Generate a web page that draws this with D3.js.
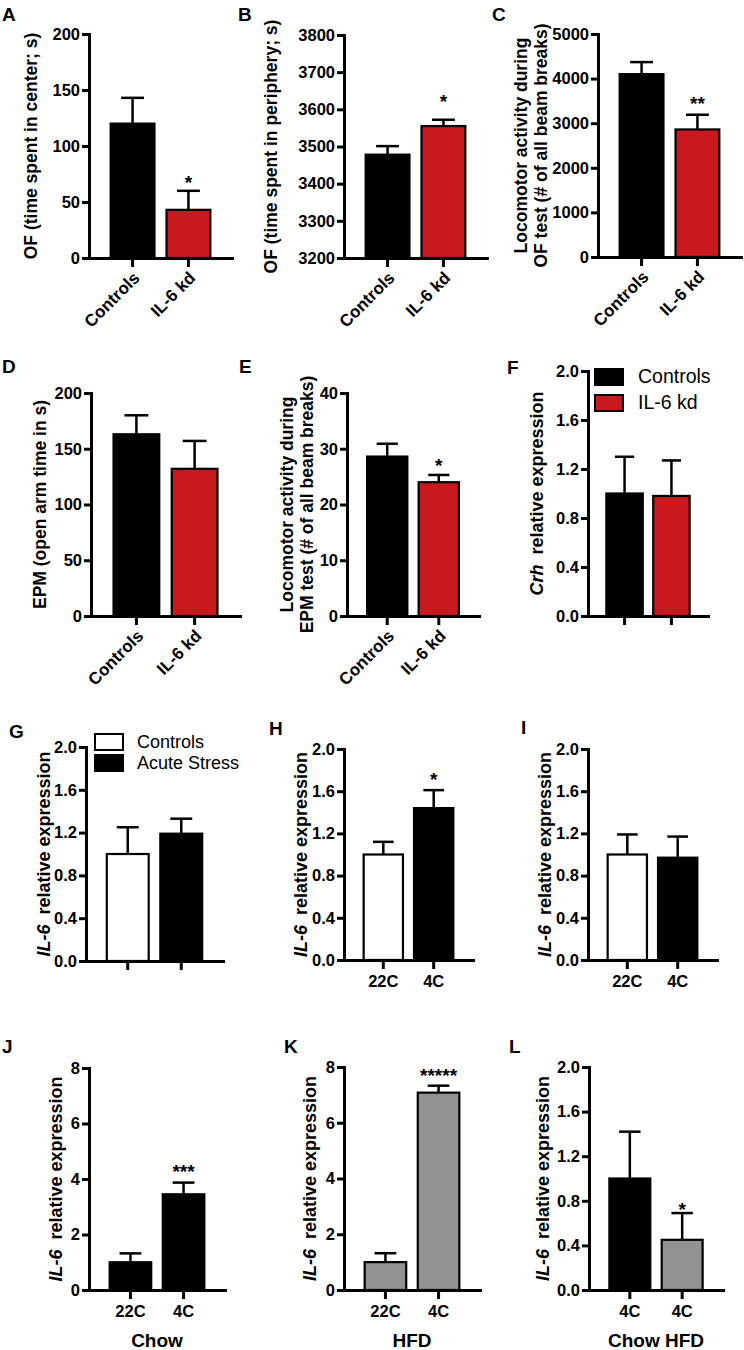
<!DOCTYPE html>
<html><head><meta charset="utf-8">
<script src="https://cdn.jsdelivr.net/npm/d3@7"></script>
<style>
body{margin:0;background:#fff;}
svg{display:block;font-family:"Liberation Sans",Arial,Helvetica,sans-serif;}
</style></head><body>
<svg id="chart" width="744" height="1350"></svg>
<script>
// ---------------- DATA ----------------
const kdGroups = ["Controls", "IL-6 kd"];
const stressGroups = ["Controls", "Acute Stress"];
const tempGroups = ["22C", "4C"];
const dietGroups = ["4C", "4C"];

const ofCenterMean = [120, 43],     ofCenterSem = [23, 17];
const ofPeriphMean = [3478, 3555],  ofPeriphSem = [23, 17];
const ofLocoMean = [4100, 2860],    ofLocoSem = [270, 330];
const epmOpenMean = [163, 132],     epmOpenSem = [17, 25];
const epmLocoMean = [28.6, 24.0],   epmLocoSem = [2.3, 1.3];
const crhMean = [1.0, 0.98],        crhSem = [0.30, 0.29];
const stressIl6Mean = [1.0, 1.19],  stressIl6Sem = [0.25, 0.14];
const coldHIl6Mean = [1.0, 1.44],   coldHIl6Sem = [0.12, 0.17];
const coldIIl6Mean = [1.0, 0.97],   coldIIl6Sem = [0.19, 0.20];
const chowIl6Mean = [1.0, 3.45],    chowIl6Sem = [0.32, 0.42];
const hfdIl6Mean = [1.0, 7.08],     hfdIl6Sem = [0.32, 0.25];
const dietIl6Mean = [1.0, 0.45],    dietIl6Sem = [0.42, 0.24];

const sigA = ["", "*"], sigB = ["", "*"], sigC = ["", "**"], sigD = ["", ""],
      sigE = ["", "*"], sigF = ["", ""], sigG = ["", ""], sigH = ["", "*"],
      sigI = ["", ""], sigJ = ["", "***"], sigK = ["", "*****"], sigL = ["", "*"];

const ticksA = [0, 50, 100, 150, 200];
const ticksB = [3200, 3300, 3400, 3500, 3600, 3700, 3800];
const ticksC = [0, 1000, 2000, 3000, 4000, 5000];
const ticksD = [0, 50, 100, 150, 200];
const ticksE = [0, 10, 20, 30, 40];
const ticksRel2 = [0, 0.4, 0.8, 1.2, 1.6, 2.0];
const ticksRel8 = [0, 2, 4, 6, 8];

// ---------------- STYLE ----------------
const RED = "#c8191e", BLACK = "#000", WHITE = "#fff", GRAY = "#929295";

const panels = [
  {letter:"A", lp:[2,21], mean:ofCenterMean, sem:ofCenterSem, sig:sigA, dom:[0,200], ticks:ticksA, fmt:d3.format("d"),
   x0:89, x1:232, yTop:34, yBot:258, fills:[BLACK,RED], labels:kdGroups, rot:true,
   ylab:[["OF (time spent in center; s)"]], lx:[37], sg:10},
  {letter:"B", lp:[238,21], mean:ofPeriphMean, sem:ofPeriphSem, sig:sigB, dom:[3200,3800], ticks:ticksB, fmt:d3.format("d"),
   x0:344, x1:487, yTop:35, yBot:258, fills:[BLACK,RED], labels:kdGroups, rot:true,
   ylab:[["OF (time spent in periphery; s)"]], lx:[277], sg:20},
  {letter:"C", lp:[492,21], mean:ofLocoMean, sem:ofLocoSem, sig:sigC, dom:[0,5000], ticks:ticksC, fmt:d3.format("d"),
   x0:598, x1:741, yTop:34, yBot:257, fills:[BLACK,RED], labels:kdGroups, rot:true,
   ylab:[["Locomotor activity during"],["OF test (# of all beam breaks)"]], lx:[527,547], sg:13},
  {letter:"D", lp:[2,373], mean:epmOpenMean, sem:epmOpenSem, sig:sigD, dom:[0,200], ticks:ticksD, fmt:d3.format("d"),
   x0:91, x1:240, yTop:393, yBot:616, fills:[BLACK,RED], labels:kdGroups, rot:true,
   ylab:[["EPM (open arm time in s)"]], lx:[46], sg:10},
  {letter:"E", lp:[239,373], mean:epmLocoMean, sem:epmLocoSem, sig:sigE, dom:[0,40], ticks:ticksE, fmt:d3.format("d"),
   x0:347, x1:479, yTop:393, yBot:616, fills:[BLACK,RED], labels:kdGroups, rot:true,
   ylab:[["Locomotor activity during"],["EPM test (# of all beam breaks)"]], lx:[293,313], sg:11},
  {letter:"F", lp:[507,374], mean:crhMean, sem:crhSem, sig:sigF, dom:[0,2], ticks:ticksRel2, fmt:d3.format(".1f"),
   x0:588, x1:708, yTop:371, yBot:616, fills:[BLACK,RED], labels:null, rot:false,
   ylab:[["Crh",true],["  relative expression"]], lx:[543], sg:10,
   legend:{x:595, y:[369,395], tx:638, fs:19.5, names:kdGroups, fills:[BLACK,RED]}},
  {letter:"G", lp:[9,738], mean:stressIl6Mean, sem:stressIl6Sem, sig:sigG, dom:[0,2], ticks:ticksRel2, fmt:d3.format(".1f"),
   x0:86, x1:223, yTop:747, yBot:961, fills:[WHITE,BLACK], labels:null, rot:false,
   ylab:[["IL-6",true],["  relative expression"]], lx:[50], sg:10,
   legend:{x:95, y:[734,755], tx:137, fs:18, names:stressGroups, fills:[WHITE,BLACK]}},
  {letter:"H", lp:[269,735], mean:coldHIl6Mean, sem:coldHIl6Sem, sig:sigH, dom:[0,2], ticks:ticksRel2, fmt:d3.format(".1f"),
   x0:344, x1:473, yTop:749, yBot:960, fills:[WHITE,BLACK], labels:tempGroups, rot:false,
   ylab:[["IL-6",true],["  relative expression"]], lx:[307], sg:12},
  {letter:"I", lp:[521,734], mean:coldIIl6Mean, sem:coldIIl6Sem, sig:sigI, dom:[0,2], ticks:ticksRel2, fmt:d3.format(".1f"),
   x0:588, x1:717, yTop:749, yBot:960, fills:[WHITE,BLACK], labels:tempGroups, rot:false,
   ylab:[["IL-6",true],["  relative expression"]], lx:[551], sg:10},
  {letter:"J", lp:[2,1053], mean:chowIl6Mean, sem:chowIl6Sem, sig:sigJ, dom:[0,8], ticks:ticksRel8, fmt:d3.format("d"),
   x0:89, x1:225, yTop:1068, yBot:1290, fills:[BLACK,BLACK], labels:tempGroups, rot:false,
   ylab:[["IL-6",true],["  relative expression"]], lx:[62], sg:13, group:"Chow"},
  {letter:"K", lp:[284,1053], mean:hfdIl6Mean, sem:hfdIl6Sem, sig:sigK, dom:[0,8], ticks:ticksRel8, fmt:d3.format("d"),
   x0:344, x1:480, yTop:1067, yBot:1290, fills:[GRAY,GRAY], labels:tempGroups, rot:false,
   ylab:[["IL-6",true],["  relative expression"]], lx:[316], sg:12, group:"HFD"},
  {letter:"L", lp:[509,1053], mean:dietIl6Mean, sem:dietIl6Sem, sig:sigL, dom:[0,2], ticks:ticksRel2, fmt:d3.format(".1f"),
   x0:589, x1:723, yTop:1067, yBot:1290, fills:[BLACK,GRAY], labels:dietGroups, rot:false,
   ylab:[["IL-6",true],["  relative expression"]], lx:[549], sg:5, group:"Chow HFD"}
];

const svg = d3.select("#chart");

function drawPanel(p) {
  const g = svg.append("g");
  const idx = d3.range(p.mean.length);
  const x = d3.scaleBand().domain(idx).range([p.x0, p.x1]).paddingInner(0.18).paddingOuter(0.37);
  const y = d3.scaleLinear().domain(p.dom).range([p.yBot, p.yTop]);
  const bw = x.bandwidth();

  // panel letter
  g.append("text").attr("x", p.lp[0]).attr("y", p.lp[1]).attr("font-size", 19).attr("font-weight", "bold").text(p.letter);

  // bars
  g.selectAll("rect.bar").data(p.mean).join("rect").attr("class","bar")
    .attr("x", (d,i) => x(i) + 1).attr("width", bw - 2)
    .attr("y", d => y(d)).attr("height", d => p.yBot - y(d))
    .attr("fill", (d,i) => p.fills[i]).attr("stroke", "#000").attr("stroke-width", 2.2);

  // error bars (upper only)
  const eb = g.selectAll("g.eb").data(p.mean).join("g").attr("class","eb");
  eb.append("line")
    .attr("x1", (d,i) => x(i) + bw/2).attr("x2", (d,i) => x(i) + bw/2)
    .attr("y1", d => y(d)).attr("y2", (d,i) => y(d + p.sem[i]))
    .attr("stroke", "#000").attr("stroke-width", 2.5);
  eb.append("line")
    .attr("x1", (d,i) => x(i) + bw*0.25).attr("x2", (d,i) => x(i) + bw*0.75)
    .attr("y1", (d,i) => y(d + p.sem[i])).attr("y2", (d,i) => y(d + p.sem[i]))
    .attr("stroke", "#000").attr("stroke-width", 2.5);

  // significance
  g.selectAll("text.sig").data(p.mean).join("text").attr("class","sig")
    .attr("x", (d,i) => x(i) + bw/2).attr("y", (d,i) => y(d + p.sem[i]) - p.sg + 8)
    .attr("text-anchor", "middle").attr("font-size", 19).attr("font-weight", "bold")
    .text((d,i) => p.sig[i]);

  // y axis
  const ya = g.append("g").attr("transform", `translate(${p.x0},0)`)
    .call(d3.axisLeft(y).tickValues(p.ticks).tickFormat(p.fmt).tickSizeInner(7).tickSizeOuter(0).tickPadding(2));
  ya.select(".domain").attr("stroke-width", 3).attr("stroke-linecap", "square");
  ya.selectAll(".tick line").attr("stroke-width", 3);
  ya.selectAll(".tick text").attr("font-size", 16.5).attr("font-weight", "bold").attr("fill", "#000")
    .attr("font-family", "Liberation Sans, Arial, sans-serif");

  // x axis
  const xa = g.append("g").attr("transform", `translate(0,${p.yBot})`)
    .call(d3.axisBottom(x).tickSizeInner(9).tickSizeOuter(0).tickFormat(""));
  xa.select(".domain").attr("stroke-width", 3).attr("stroke-linecap", "square");
  xa.selectAll(".tick line").attr("stroke-width", 3);

  // x labels
  if (p.labels) {
    if (p.rot) {
      g.selectAll("text.xl").data(p.labels).join("text").attr("class","xl")
        .attr("transform", (d,i) => `translate(${x(i) + bw/2 + 8},${p.yBot + 21}) rotate(-45)`)
        .attr("text-anchor", "end").attr("font-size", 17).attr("font-weight", "bold").text(d => d);
    } else {
      g.selectAll("text.xl").data(p.labels).join("text").attr("class","xl")
        .attr("x", (d,i) => x(i) + bw/2).attr("y", p.yBot + 27)
        .attr("text-anchor", "middle").attr("font-size", 16.5).attr("font-weight", "bold").text(d => d);
    }
  }
  if (p.group) {
    g.append("text").attr("x", (p.x0 + p.x1)/2).attr("y", p.yBot + 57)
      .attr("text-anchor", "middle").attr("font-size", 19).attr("font-weight", "bold").text(p.group);
  }

  // y label
  const ymid = (p.yTop + p.yBot) / 2;
  if (p.ylab.length === 2 && p.ylab[0][1] === true) {
    const t = g.append("text").attr("transform", `translate(${p.lx[0]},${ymid}) rotate(-90)`)
      .attr("text-anchor", "middle").attr("font-size", 18).attr("font-weight", "bold")
      .style("white-space", "pre");
    t.append("tspan").attr("font-style", "italic").text(p.ylab[0][0]);
    t.append("tspan").text(p.ylab[1][0]);
  } else {
    p.ylab.forEach((l, k) => {
      g.append("text").attr("transform", `translate(${p.lx[k]},${ymid}) rotate(-90)`)
        .attr("text-anchor", "middle").attr("font-size", 17.5).attr("font-weight", "bold").text(l[0]);
    });
  }

  // legend
  if (p.legend) {
    const L = p.legend;
    L.names.forEach((n, k) => {
      g.append("rect").attr("x", L.x).attr("y", L.y[k]).attr("width", 28).attr("height", 16)
        .attr("fill", L.fills[k]).attr("stroke", "#000").attr("stroke-width", 2);
      g.append("text").attr("x", L.tx).attr("y", L.y[k] + 14).attr("font-size", L.fs).text(n);
    });
  }
}

panels.forEach(drawPanel);
</script>
</body></html>
